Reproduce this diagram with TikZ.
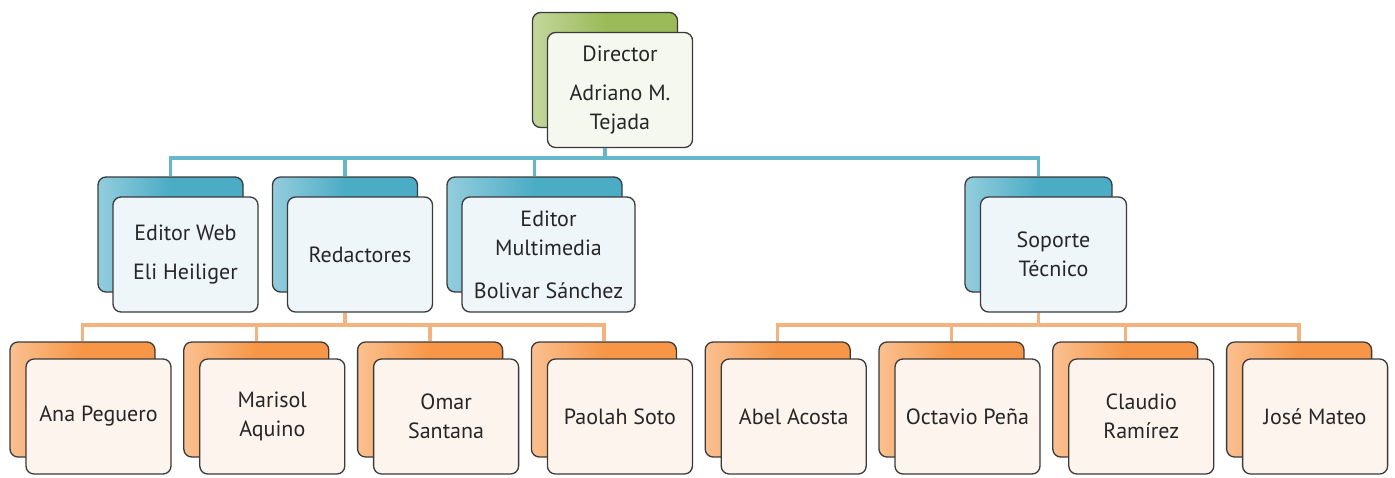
\documentclass[tikz,border=0pt]{standalone}
\usepackage{fontspec}
\setmainfont{PT Sans}
\usepackage{tikz}
\usetikzlibrary{shapes}
\usetikzlibrary{calc}
\usetikzlibrary{positioning}
\usepackage{xcolor}
\definecolor{myblack}{HTML}{3A3A3A}
\definecolor{mytext}{HTML}{262626}
\definecolor{mygreen}{HTML}{9BBB59}
\definecolor{myblue}{HTML}{4BACC6}
\definecolor{myorange}{HTML}{F79646}
\definecolor{bluefront}{HTML}{EEF6FA}
\definecolor{greenfront}{HTML}{F5F8EE}
\definecolor{orangefront}{HTML}{FDF4EE}
\definecolor{blueline}{HTML}{66B6CC}
\definecolor{orangeline}{HTML}{F3B27E}
\tikzset{every text node part/.style={align=center, text=mytext, font={\fontsize{22}{29}\selectfont}}}
\tikzstyle{card} = [draw=myblack, line width=1.3pt, rounded corners=8pt, minimum width=145pt, minimum height=115pt, inner sep=2pt]
\tikzstyle{greenbox} = [card, left color=mygreen!60!white, right color=mygreen, middle color=mygreen]
\tikzstyle{bluebox} = [card, left color=myblue!60!white, right color=myblue, middle color=myblue]
\tikzstyle{orangebox} = [card, left color=myorange!60!white, right color=myorange, middle color=myorange]
\tikzstyle{greencard} = [card, fill=greenfront]
\tikzstyle{bluecard} = [card, fill=bluefront]
\tikzstyle{orangecard} = [card, fill=orangefront]
\tikzstyle{blueln} = [draw=blueline, line width=3.5pt]
\tikzstyle{orangeln} = [draw=orangeline, line width=3.5pt]

\begin{document}
\begin{tikzpicture}[x=1pt, y=-1pt]
  \useasboundingbox (0,0) rectangle (1395,477);
  % director
  \node[greenbox] (dir) at (605,70) {};
  \node[greencard] (dirT) at ([shift={(15,20)}]dir.center) {Director\\[10pt]Adriano M.\\Tejada};
  % second level
  \node[bluebox] (web) at (170.5,234.5) {};
  \node[bluecard] (webT) at ([shift={(15,20)}]web.center) {Editor Web\\[10pt]Eli Heiliger};
  \node[bluebox] (red) at (345,234.5) {};
  \node[bluecard] (redT) at ([shift={(15,20)}]red.center) {Redactores};
  \node[bluebox, minimum width=175pt] (mm) at (534.5,234.5) {};
  \node[bluecard, minimum width=173pt] (mmT) at ([shift={(14,20)}]mm.center) {Editor\\Multimedia\\[14pt]Bolivar S\'anchez};
  \node[bluebox, minimum width=147pt] (sop) at (1038.5,234.5) {};
  \node[bluecard, minimum width=146pt] (sopT) at ([shift={(15,20)}]sop.center) {Soporte\\T\'ecnico};
  % third level
  \node[orangebox] (ana) at (82.5,399.5) {};
  \node[orangecard] (anaT) at ([shift={(16,17)}]ana.center) {Ana Peguero};
  \node[orangebox] (mar) at (256.3,399.5) {};
  \node[orangecard] (marT) at ([shift={(16,17)}]mar.center) {Marisol\\Aquino};
  \node[orangebox] (oma) at (430.1,399.5) {};
  \node[orangecard] (omaT) at ([shift={(16,17)}]oma.center) {Omar\\Santana};
  \node[orangebox] (pao) at (603.9,399.5) {};
  \node[orangecard] (paoT) at ([shift={(16,17)}]pao.center) {Paolah Soto};
  \node[orangebox] (abe) at (777.7,399.5) {};
  \node[orangecard] (abeT) at ([shift={(16,17)}]abe.center) {Abel Acosta};
  \node[orangebox] (oct) at (951.5,399.5) {};
  \node[orangecard] (octT) at ([shift={(16,17)}]oct.center) {Octavio Pe\~na};
  \node[orangebox] (cla) at (1125.3,399.5) {};
  \node[orangecard] (claT) at ([shift={(16,17)}]cla.center) {Claudio\\Ram\'irez};
  \node[orangebox] (jos) at (1299.1,399.5) {};
  \node[orangecard] (josT) at ([shift={(16,17)}]jos.center) {Jos\'e Mateo};
  % connectors
  \coordinate (dirbus) at (605,158);
  \coordinate (redbus) at (345,325);
  \coordinate (sopbus) at (1038.5,325);
  \draw[blueln] (web.north) |- (dirbus) -| (dir |- dirT.south);
  \draw[blueln] (red.north) |- (dirbus);
  \draw[blueln] (mm.north) |- (dirbus);
  \draw[blueln] (sop.north) |- (dirbus);
  \draw[orangeln] (ana.north) |- (redbus) -| (red |- redT.south);
  \draw[orangeln] (mar.north) |- (redbus);
  \draw[orangeln] (oma.north) |- (redbus);
  \draw[orangeln] (pao.north) |- (redbus);
  \draw[orangeln] (abe.north) |- (sopbus) -| (sop |- sopT.south);
  \draw[orangeln] (oct.north) |- (sopbus);
  \draw[orangeln] (cla.north) |- (sopbus);
  \draw[orangeln] (jos.north) |- (sopbus);
\end{tikzpicture}
\end{document}
